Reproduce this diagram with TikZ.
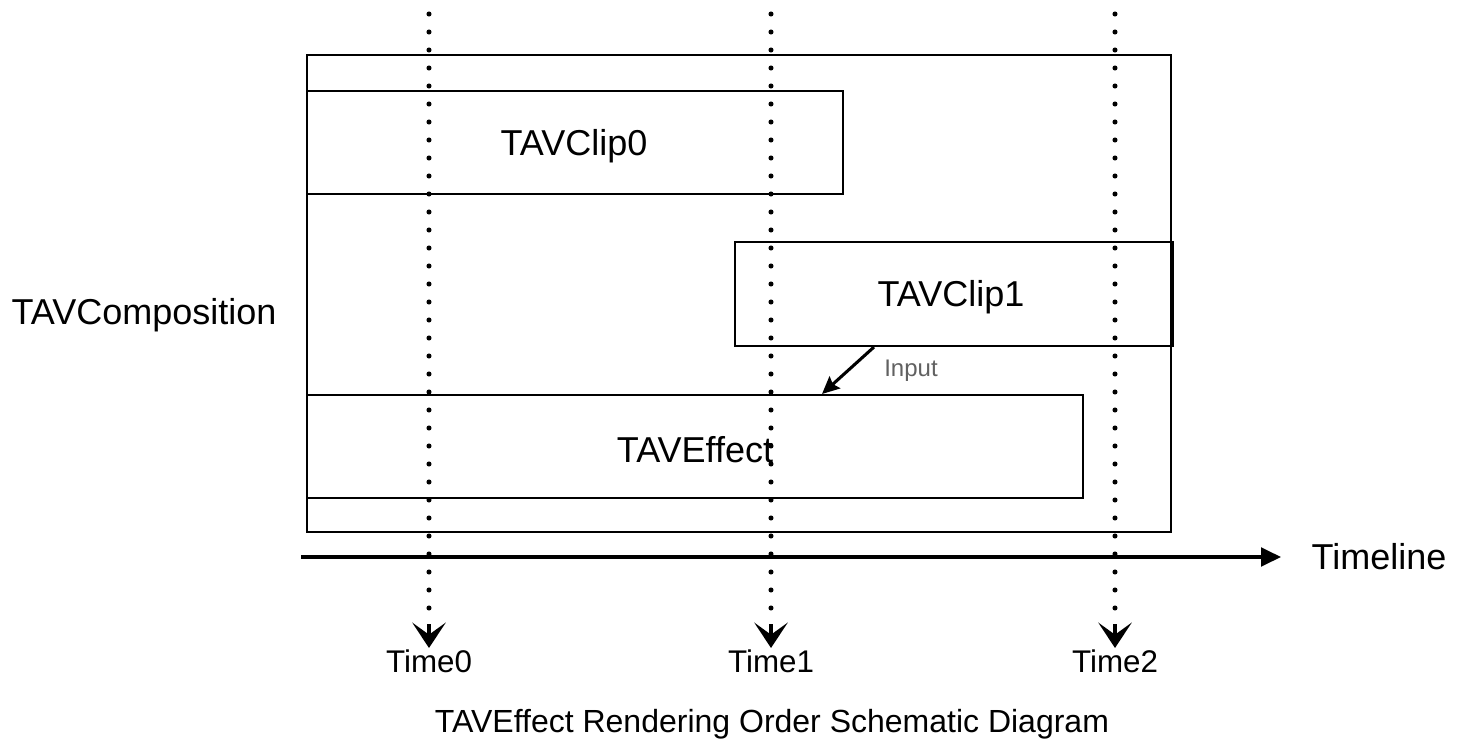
\documentclass[tikz,border=0pt]{standalone}
\usepackage{fontspec}
\setmainfont{Liberation Sans}
\usetikzlibrary{arrows.meta}
\begin{document}
\begin{tikzpicture}[x=0.75pt,y=-0.75pt,
  box/.style={draw,line width=1.5pt,inner sep=0pt},
  bigtext/.style={font=\fontsize{27}{31}\selectfont},
  timetext/.style={font=\fontsize{23.5}{27}\selectfont},
  dotline/.style={line width=3.8pt,line cap=round,dash pattern=on 0pt off 13.5pt},
  timetip/.style={-{Stealth[length=19pt,width=25pt,inset=9pt,line cap=butt]}}]
\useasboundingbox (0,0) rectangle (1460,756);
% composition
\node[box,minimum width=864*0.75pt,minimum height=477*0.75pt] (comp) at (739,293.5) {};
\node[bigtext] (complabel) at (144,315) {TAVComposition};
% clips
\node[box,minimum width=536*0.75pt,minimum height=103*0.75pt] (clip0) at (575,142.5) {};
\node[bigtext] (clip0t) at (574,146) {TAVClip0};
\node[box,minimum width=438*0.75pt,minimum height=104*0.75pt] (clip1) at (954,294) {};
\node[bigtext] (clip1t) at (951,297) {TAVClip1};
\node[box,minimum width=776*0.75pt,minimum height=103*0.75pt] (effect) at (695,446.5) {};
\node[bigtext] (effectt) at (695,450) {TAVEffect};
% input arrow
\draw[line width=2.3pt,-{Stealth[length=13pt,width=12pt,inset=2pt]}]
  ([xshift=140*0.75pt]clip1.south west) -- ([xshift=516*0.75pt]effect.north west);
\node[font=\fontsize{18}{21}\selectfont,text=black!62] (inputl) at (911,371) {Input};
% timeline
\coordinate (tlstart) at (301,557);
\coordinate (tlend) at (1281,557);
\draw[line width=2.4pt,-{Triangle[length=15pt,width=14pt]}] (tlstart) -- (tlend);
\node[bigtext] (timeline) at (1379,557) {Timeline};
% time lines
\foreach \i/\x in {0/429,1/771,2/1115}{
  \coordinate (top\i) at (\x,14);
  \coordinate (bot\i) at (\x,624);
  \coordinate (tip\i) at (\x,648);
  \node[timetext] (time\i) at (\x,661) {Time\i};
  \draw[dotline] (top\i) -- (bot\i);
  \draw[line width=2.6pt,timetip] (bot\i) -- (tip\i);
}
% caption
\node[font=\fontsize{24}{28}\selectfont] (caption) at (772,724) {TAVEffect Rendering Order Schematic Diagram};
\end{tikzpicture}
\end{document}
